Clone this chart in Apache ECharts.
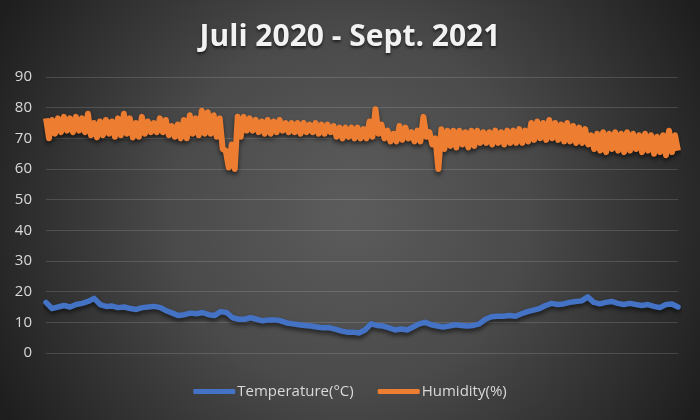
<!DOCTYPE html>
<html>
<head>
<meta charset="utf-8">
<script src="https://cdn.jsdelivr.net/npm/echarts@6/dist/echarts.min.js"></script>
<style>html,body{margin:0;padding:0;background:#333;}#c{width:700px;height:420px;}</style>
</head>
<body>
<div id="c"></div>
<script>
const titleText = 'Juli 2020 - Sept. 2021';
const seriesNames = ['Temperature(°C)', 'Humidity(%)'];
const yTicks = [0, 10, 20, 30, 40, 50, 60, 70, 80, 90];

const temperature = [16.5,14.5,15,15.5,15,15.8,16.2,16.8,17.8,15.8,15.2,15.3,14.8,15,14.5,14.2,14.8,15,15.2,14.8,
13.8,13,12.2,12.5,13,12.8,13.2,12.5,12.2,13.5,13.2,11.5,11,11,11.5,11,10.5,10.8,10.8,10.5,
9.8,9.5,9.2,9,8.8,8.5,8.2,8.3,7.8,7.2,6.8,6.8,6.5,7.5,9.5,9,8.8,8.2,7.5,7.8,
7.5,8.5,9.5,10,9.2,8.8,8.5,8.8,9.2,9,8.8,9,9.5,11,11.8,12,12,12.2,12,12.8,
13.5,14,14.5,15.5,16.2,15.8,16,16.5,16.8,17,18.3,16.5,16,16.5,16.8,16.2,15.8,16.2,15.8,15.5,
15.8,15.2,14.8,15.8,16,15];

const humidityHigh = [76.5,76,76.5,77,76.5,77,76.5,78,75,75.5,76,75.5,76.5,78,76.5,75,77,75.5,75,76.5,
76,74,74.5,76,77.5,76.5,79,78.5,77.5,76.5,66,68,77,77,76.5,76,75.5,76,75.5,76,
75,75,75,75,74.5,75,74.5,74.5,74,73.5,73.5,73.5,73.5,73,75.5,79.5,74.5,72.5,71.5,74,
73.5,72,72.5,77,72,70,73,72.5,72.5,72.5,72,72.5,72.5,72,72,72.5,72,72.5,72.5,73,
72.5,75,75.5,75,76,75,74.5,75,74,73.5,73,71,71.5,72,71.5,72,71.5,72,71.5,71,
71.5,71,70.5,71,72.5,71];
const humidityLow = [70,71.5,72,72.5,72,72.5,72,71,70.3,71,71.5,70.5,71,71.5,70.3,70.5,71.5,72,72,72,
71,70.5,70,70,71.5,71,71.5,71.5,70.5,66.5,60.5,60,70.5,72.5,72.5,72,71.5,71.5,72,72.5,
72,72,71.5,72,72,71.5,71.5,72,70.5,70,70.5,70,70,70,70.5,71.5,70,69,69,69.5,
70,69,69,70.5,68,60,66.5,67.5,67,68,67,67.5,68.5,68.5,68,68.5,68,68.5,68.5,68.5,
69,69.5,70,69.5,70,69.5,69,69,68.5,68.5,68,66.5,66,65.5,66.5,66,65.5,66,66.5,65.5,
66,65,65.5,64.5,65.5,66];

// humidity drawn as its alternating high/low readings
const humidity = [];
humidityHigh.forEach((h, i) => { humidity.push(h); humidity.push(humidityLow[i]); });
const catsT = temperature.map((_, i) => i);
const catsH = humidity.map((_, i) => i);

const chart = echarts.init(document.getElementById('c'), null, {renderer: 'canvas'});
chart.setOption({
  animation: false,
  backgroundColor: {
    type: 'radial', x: 0.5, y: 0.5, r: 0.95,
    colorStops: [
      {offset: 0, color: '#5c5c5c'},
      {offset: 0.45, color: '#4a4a4a'},
      {offset: 1, color: '#1e1e1e'}
    ]
  },
  title: {
    text: titleText, left: 'center', top: 17,
    textStyle: {
      color: '#f2f2f2', fontSize: 30, fontWeight: 'bold', fontFamily: 'Open Sans',
      textShadowColor: 'rgba(0,0,0,0.6)', textShadowBlur: 3, textShadowOffsetY: 2
    }
  },
  legend: {
    bottom: 16, left: 'center', itemWidth: 42, itemHeight: 5, itemGap: 24,
    icon: 'roundRect',
    textStyle: {color: '#d9d9d9', fontSize: 15, fontFamily: 'Open Sans', padding: [0,0,0,-3]},
    data: seriesNames
  },
  grid: {left: 46, right: 22, top: 77, bottom: 67},
  xAxis: [
    {type: 'category', data: catsT, boundaryGap: false, show: false},
    {type: 'category', data: catsH, boundaryGap: false, show: false}
  ],
  yAxis: {
    type: 'value', min: yTicks[0], max: yTicks[yTicks.length - 1], interval: 10,
    axisLine: {show: false}, axisTick: {show: false},
    axisLabel: {color: '#d9d9d9', fontSize: 15, fontFamily: 'Open Sans', margin: 14},
    splitLine: {lineStyle: {color: 'rgba(255,255,255,0.14)', width: 1}}
  },
  series: [
    {
      name: seriesNames[0], type: 'line', xAxisIndex: 0, data: temperature,
      showSymbol: false, symbol: 'none', color: '#4472c4',
      lineStyle: {width: 5.5, color: '#4472c4', cap: 'round', join: 'round',
        shadowColor: 'rgba(0,0,0,0.55)', shadowBlur: 4, shadowOffsetY: 3}
    },
    {
      name: seriesNames[1], type: 'line', xAxisIndex: 1, data: humidity,
      showSymbol: false, symbol: 'none', color: '#ed7d31',
      lineStyle: {width: 6, color: '#ed7d31', join: 'round',
        shadowColor: 'rgba(0,0,0,0.55)', shadowBlur: 4, shadowOffsetY: 3}
    }
  ]
});
</script>
</body>
</html>
